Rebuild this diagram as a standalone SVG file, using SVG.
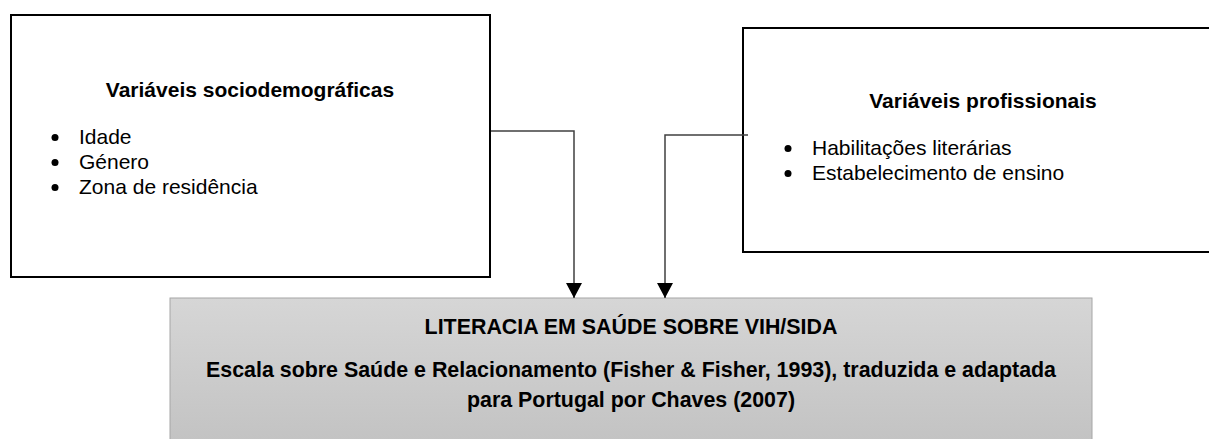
<svg xmlns="http://www.w3.org/2000/svg" width="1209" height="439" viewBox="0 0 1209 439">
  <defs>
    <linearGradient id="grey" x1="0" y1="0" x2="0" y2="1">
      <stop offset="0" stop-color="#d6d6d6"/>
      <stop offset="1" stop-color="#c2c2c2"/>
    </linearGradient>
    <marker id="arrow" viewBox="0 0 15 16" refX="15" refY="8" markerWidth="15" markerHeight="16" markerUnits="userSpaceOnUse" orient="auto">
      <path d="M0,0 L15,8 L0,16 Z" fill="#000"/>
    </marker>
  </defs>
  <style>
    .box { fill: #fff; stroke: #000; stroke-width: 2; }
    .title { font-family: "Liberation Sans", Arial, sans-serif; font-size: 21px; font-weight: bold; fill: #000; }
    .main { font-family: "Liberation Sans", Arial, sans-serif; font-size: 21.4px; font-weight: bold; fill: #000; }
    .item { font-family: "Liberation Sans", Arial, sans-serif; font-size: 21px; fill: #000; }
    .conn { fill: none; stroke: #404040; stroke-width: 1.5; }
  </style>
  <rect width="1209" height="439" fill="#fff"/>

  <g id="node-sociodemograficas">
    <rect class="box" x="11" y="15" width="479" height="262"/>
    <text class="title" x="250" y="97" text-anchor="middle">Variáveis sociodemográficas</text>
    <circle cx="55" cy="137.5" r="3.5"/>
    <text class="item" x="79" y="144">Idade</text>
    <circle cx="55" cy="162.5" r="3.5"/>
    <text class="item" x="79" y="169">Género</text>
    <circle cx="55" cy="187.5" r="3.5"/>
    <text class="item" x="79" y="194">Zona de residência</text>
  </g>

  <g id="node-profissionais">
    <rect class="box" x="743" y="28" width="480" height="224"/>
    <text class="title" x="983" y="108" text-anchor="middle">Variáveis profissionais</text>
    <circle cx="788" cy="148.5" r="3.5"/>
    <text class="item" x="812" y="155">Habilitações literárias</text>
    <circle cx="788" cy="173.5" r="3.5"/>
    <text class="item" x="812" y="180">Estabelecimento de ensino</text>
  </g>

  <g id="node-literacia">
    <rect x="170" y="298" width="922" height="150" fill="url(#grey)" stroke="#a6a6a6" stroke-width="1"/>
    <text class="main" x="631" y="334" text-anchor="middle">LITERACIA EM SAÚDE SOBRE VIH/SIDA</text>
    <text class="main" x="631" y="377" text-anchor="middle">Escala sobre Saúde e Relacionamento (Fisher &amp; Fisher, 1993), traduzida e adaptada</text>
    <text class="main" x="631" y="407" text-anchor="middle">para Portugal por Chaves (2007)</text>
  </g>

  <g id="connectors">
    <path class="conn" d="M491,131 H574 V298" marker-end="url(#arrow)"/>
    <path class="conn" d="M748,135 H665 V298" marker-end="url(#arrow)"/>
  </g>
</svg>
